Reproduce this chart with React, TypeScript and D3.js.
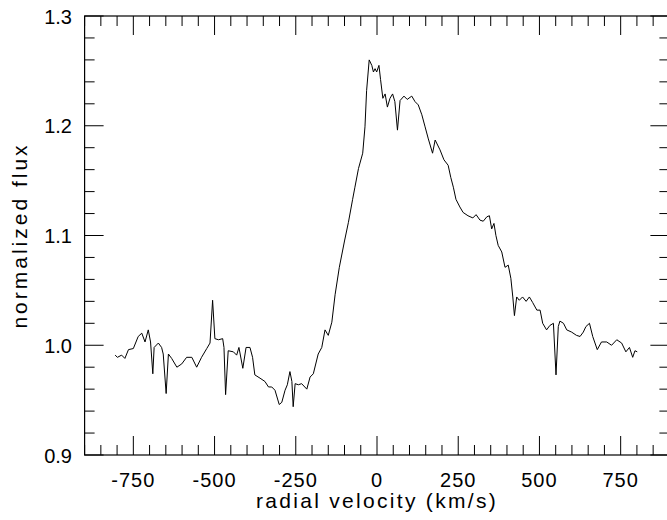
import React, { useEffect, useRef } from "react";
import * as d3 from "d3";

const velocity = [
  -806, -799, -786, -776, -765, -750, -735, -724, -714, -704, -697, -690, -686, -673, -663, -658, -649, -642, -632, -616,
  -601, -586, -570, -555, -540, -524, -514, -506, -499, -488, -475, -471, -466, -458, -442, -432, -425, -413, -403, -391,
  -383, -376, -360, -345, -334, -324, -314, -301, -293, -283, -276, -268, -262, -258, -252, -242, -232, -216, -206, -196,
  -181, -170, -160, -150, -139, -129, -116, -100, -88, -75, -68, -57, -44, -37, -32, -24, -16, -11, -6, -1,
  6, 11, 18, 25, 32, 40, 48, 55, 63, 71, 83, 93, 107, 117, 127, 138, 148, 158, 171, 179,
  194, 206, 219, 227, 235, 243, 255, 265, 280, 295, 305, 317, 327, 338, 346, 353, 360, 366, 373, 384,
  394, 404, 412, 418, 423, 430, 438, 448, 459, 469, 479, 492, 502, 510, 522, 532, 543, 551, 558, 563,
  574, 584, 599, 614, 625, 635, 643, 654, 664, 678, 691, 707, 722, 738, 753, 766, 777, 787, 794, 801,
];

const flux = [
  0.991, 0.989, 0.991, 0.988, 0.996, 0.997, 1.008, 1.011, 1.003, 1.014, 1.003, 0.974, 0.998, 1.002, 0.998, 0.992, 0.956, 0.992, 0.988, 0.980,
  0.983, 0.989, 0.989, 0.980, 0.989, 0.997, 1.002, 1.041, 1.006, 1.005, 1.006, 0.998, 0.955, 0.995, 0.994, 0.991, 0.998, 0.979, 0.998, 0.998,
  0.989, 0.973, 0.970, 0.967, 0.962, 0.962, 0.959, 0.946, 0.948, 0.959, 0.964, 0.976, 0.967, 0.944, 0.965, 0.964, 0.965, 0.960, 0.971, 0.974,
  0.992, 0.998, 1.014, 1.009, 1.021, 1.046, 1.071, 1.095, 1.112, 1.133, 1.144, 1.161, 1.175, 1.199, 1.232, 1.260, 1.255, 1.249, 1.252, 1.249,
  1.255, 1.242, 1.225, 1.229, 1.217, 1.225, 1.229, 1.222, 1.196, 1.223, 1.227, 1.224, 1.227, 1.222, 1.219, 1.210, 1.199, 1.188, 1.175, 1.187,
  1.178, 1.169, 1.164, 1.153, 1.144, 1.133, 1.126, 1.121, 1.118, 1.116, 1.119, 1.114, 1.113, 1.117, 1.118, 1.106, 1.111, 1.100, 1.091, 1.085,
  1.071, 1.073, 1.061, 1.044, 1.027, 1.044, 1.041, 1.044, 1.040, 1.044, 1.039, 1.032, 1.032, 1.020, 1.014, 1.018, 1.020, 0.973, 1.017, 1.022,
  1.020, 1.014, 1.012, 1.009, 1.008, 1.012, 1.017, 1.020, 1.008, 0.996, 1.003, 1.003, 1.000, 1.005, 1.002, 0.994, 0.998, 0.989, 0.995, 0.994,
];

const xMajorTicks = [-750, -500, -250, 0, 250, 500, 750];
const xMinorStep = 50;
const yMajorTicks = [0.9, 1.0, 1.1, 1.2, 1.3];
const yMinorStep = 0.02;
const xTitle = "radial velocity (km/s)";
const yTitle = "normalized flux";

const W = 667;
const H = 520;
const M = { left: 84.6, right: 669.4, top: 16, bottom: 455 };

export default function App() {
  const ref = useRef<SVGSVGElement>(null);

  useEffect(() => {
    document.body.style.margin = "0";
    const svg = d3.select(ref.current);
    svg.selectAll("*").remove();

    const x = d3.scaleLinear().domain([-900, 900]).range([M.left, M.right]);
    const y = d3.scaleLinear().domain([0.9, 1.3]).range([M.bottom, M.top]);

    const font = "'Liberation Sans', Arial, sans-serif";

    const xMinor = d3.range(-900, 900 + 1, xMinorStep).filter((v) => !xMajorTicks.includes(v));
    const yMinor = d3
      .range(0, 21)
      .map((i) => +(0.9 + i * yMinorStep).toFixed(2))
      .filter((v) => !yMajorTicks.some((t) => Math.abs(t - v) < 1e-6));

    const g = svg.append("g");
    const tickColor = "#000";
    const minorLen = 10;
    const majorLen = 19;

    const xt = (v: number, len: number) => {
      g.append("line").attr("x1", x(v)).attr("x2", x(v)).attr("y1", M.bottom).attr("y2", M.bottom - len)
        .attr("stroke", tickColor).attr("stroke-width", 1);
      g.append("line").attr("x1", x(v)).attr("x2", x(v)).attr("y1", M.top).attr("y2", M.top + len)
        .attr("stroke", tickColor).attr("stroke-width", 1);
    };
    xMinor.forEach((v) => xt(v, minorLen));
    xMajorTicks.forEach((v) => xt(v, majorLen));

    const yt = (v: number, len: number) => {
      g.append("line").attr("x1", M.left).attr("x2", M.left + len).attr("y1", y(v)).attr("y2", y(v))
        .attr("stroke", tickColor).attr("stroke-width", 1);
      g.append("line").attr("x1", M.right).attr("x2", M.right - len).attr("y1", y(v)).attr("y2", y(v))
        .attr("stroke", tickColor).attr("stroke-width", 1);
    };
    yMinor.forEach((v) => yt(v, minorLen));
    yMajorTicks.forEach((v) => yt(v, majorLen));

    g.append("rect")
      .attr("x", M.left).attr("y", M.top)
      .attr("width", M.right - M.left).attr("height", M.bottom - M.top)
      .attr("fill", "none").attr("stroke", "#000").attr("stroke-width", 1.2);

    xMajorTicks.forEach((v) => {
      g.append("text").attr("x", x(v)).attr("y", 487)
        .attr("text-anchor", "middle").attr("font-family", font).attr("font-size", 20)
        .attr("letter-spacing", 1).attr("fill", "#000").text(String(v));
    });
    yMajorTicks.forEach((v) => {
      g.append("text").attr("x", 72).attr("y", y(v) + 7.5)
        .attr("text-anchor", "end").attr("font-family", font).attr("font-size", 20)
        .attr("fill", "#000").text(v.toFixed(1));
    });

    g.append("text").attr("x", (M.left + 669.4) / 2).attr("y", 508)
      .attr("text-anchor", "middle").attr("font-family", font).attr("font-size", 21)
      .attr("letter-spacing", 2.3).attr("fill", "#000").text(xTitle);
    g.append("text").attr("transform", `translate(27,${(M.top + M.bottom) / 2}) rotate(-90)`)
      .attr("text-anchor", "middle").attr("font-family", font).attr("font-size", 21)
      .attr("letter-spacing", 3).attr("fill", "#000").text(yTitle);

    const pts: [number, number][] = velocity.map((v, i) => [v, flux[i]]);
    const line = d3.line<[number, number]>().x((d) => x(d[0])).y((d) => y(d[1]));
    g.append("path").attr("d", line(pts) || "").attr("fill", "none")
      .attr("stroke", "#000").attr("stroke-width", 1).attr("stroke-linejoin", "round");
  }, []);

  return (
    <svg ref={ref} width={W} height={H} style={{ position: "absolute", left: 0, top: 0, background: "#fff" }} />
  );
}
